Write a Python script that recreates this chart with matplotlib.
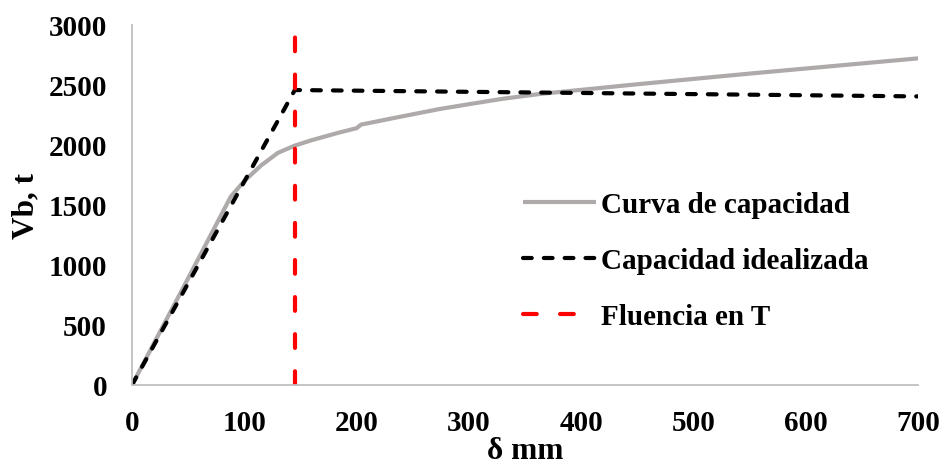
import matplotlib
matplotlib.use("Agg")
import matplotlib.pyplot as plt

plt.rcParams['font.family'] = ['Liberation Serif', 'DejaVu Serif']
plt.rcParams['font.weight'] = 'bold'

# curva de capacidad (pushover)
curva_x = [0, 45, 88, 100, 115, 130, 145, 160, 185, 200, 204, 236, 274, 300, 330, 363, 452, 550, 700]
curva_y = [0, 800, 1570, 1700, 1830, 1935, 1995, 2040, 2105, 2140, 2170, 2230, 2300, 2340, 2385, 2425, 2508, 2595, 2722]

# capacidad idealizada (bilineal)
ideal_x = [0, 145, 700]
ideal_y = [0, 2458, 2405]

# fluencia
fluencia_x = [145, 145]
fluencia_y = [0, 3000]

fig = plt.figure(figsize=(9.42, 4.64), dpi=100)
ax = fig.add_axes([132/942, 1 - 386/464, (918-132)/942, (386-26)/464])

ax.plot(curva_x, curva_y, color='#aeaaaa', lw=3, solid_capstyle='butt',
        label='Curva de capacidad')
ax.plot(ideal_x, ideal_y, color='black', lw=3, dash_capstyle='round',
        linestyle=(0, (2.1, 2.9)), label='Capacidad idealizada')
ax.plot(fluencia_x, fluencia_y, color='#ff0000', lw=3, dash_capstyle='round',
        linestyle=(0, (3.3, 5.6)), label='Fluencia en T')

ax.set_xlim(0, 700)
ax.set_ylim(0, 3000)
ax.set_xticks(range(0, 701, 100))
ax.set_yticks(range(0, 3001, 500))

for s in ['top', 'right']:
    ax.spines[s].set_visible(False)
for s in ['left', 'bottom']:
    ax.spines[s].set_color('#bfbfbf')
    ax.spines[s].set_linewidth(1.3)

ax.tick_params(axis='y', length=0, labelsize=21, pad=18)
ax.tick_params(axis='x', length=0, labelsize=21, pad=17)
for lab in ax.get_xticklabels() + ax.get_yticklabels():
    lab.set_fontweight('bold')

ax.set_xlabel('δ mm', fontsize=22.5, fontweight='bold', labelpad=0)
ax.set_ylabel('Vb, t', fontsize=22.5, fontweight='bold', labelpad=6)

ax.legend(loc='upper left', bbox_to_anchor=(497/942, 1 - 166/464),
          bbox_transform=fig.transFigure, frameon=False,
          prop={'size': 21, 'weight': 'bold'}, handlelength=2.5,
          handletextpad=0.15, labelspacing=0.99)

fig.savefig('out.png', dpi=100)
